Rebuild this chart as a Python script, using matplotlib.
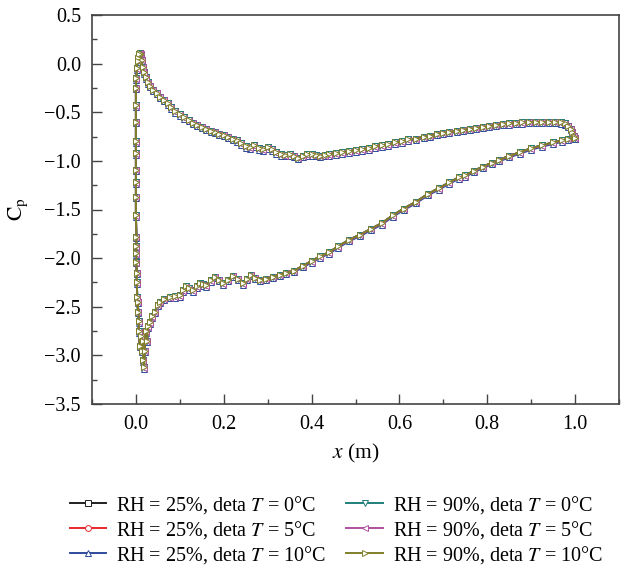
import numpy as np
import matplotlib
matplotlib.use("Agg")
import matplotlib.pyplot as plt

plt.rcParams['font.family'] = ['Liberation Serif', 'DejaVu Serif']
plt.rcParams['mathtext.fontset'] = 'stix'

# upper side (higher Cp), leading edge -> trailing edge
x_upper = [0.005, 0.007, 0.009, 0.011, 0.013, 0.015, 0.018, 0.022, 0.027, 0.033,
           0.040, 0.047, 0.055, 0.063, 0.072, 0.081, 0.090, 0.100, 0.110, 0.120,
           0.130, 0.140, 0.150, 0.160, 0.170, 0.180, 0.190, 0.200, 0.210, 0.220,
           0.230, 0.240, 0.250, 0.260, 0.270, 0.280, 0.290, 0.300, 0.310, 0.320,
           0.330, 0.340, 0.350, 0.360, 0.370, 0.380, 0.390, 0.400, 0.410, 0.420,
           0.430, 0.440, 0.455, 0.470, 0.486, 0.500, 0.515, 0.530, 0.545, 0.560,
           0.575, 0.590, 0.605, 0.620, 0.638, 0.655, 0.670, 0.685, 0.700, 0.714,
           0.730, 0.745, 0.760, 0.775, 0.790, 0.805, 0.820, 0.835, 0.850, 0.865,
           0.880, 0.895, 0.910, 0.925, 0.940, 0.955, 0.968, 0.978, 0.985, 0.990,
           0.994, 0.998, 1.000]
cp_upper = [0.06, 0.10, 0.11, 0.10, 0.04, -0.03, -0.09, -0.14, -0.19, -0.23,
            -0.27, -0.30, -0.34, -0.37, -0.41, -0.45, -0.49, -0.52, -0.55, -0.58,
            -0.61, -0.63, -0.65, -0.67, -0.69, -0.70, -0.72, -0.73, -0.75, -0.77,
            -0.79, -0.82, -0.85, -0.86, -0.84, -0.87, -0.88, -0.86, -0.88, -0.91,
            -0.93, -0.94, -0.93, -0.95, -0.97, -0.95, -0.93, -0.93, -0.94, -0.95,
            -0.94, -0.93, -0.92, -0.91, -0.90, -0.89, -0.88, -0.87, -0.85, -0.84,
            -0.83, -0.81, -0.80, -0.78, -0.77, -0.75, -0.74, -0.72, -0.71, -0.70,
            -0.69, -0.68, -0.67, -0.66, -0.65, -0.64, -0.63, -0.62, -0.615, -0.61,
            -0.605, -0.60, -0.60, -0.60, -0.60, -0.60, -0.605, -0.615, -0.64, -0.67,
            -0.70, -0.74, -0.76]

# lower side (suction peak region), leading edge -> trailing edge
x_lower = [0.004, 0.002, 0.001, 0.000, 0.000, 0.000, 0.000, 0.000, 0.000, 0.000,
           0.000, 0.000, 0.001, 0.001, 0.001, 0.001, 0.002, 0.002, 0.003, 0.005,
           0.004, 0.007, 0.006, 0.009, 0.011, 0.013, 0.015, 0.017, 0.019, 0.020,
           0.022, 0.025, 0.028, 0.032, 0.037, 0.043, 0.050, 0.055, 0.065, 0.077,
           0.090, 0.100, 0.108, 0.115, 0.122, 0.130, 0.138, 0.145, 0.152, 0.160,
           0.170, 0.180, 0.190, 0.198, 0.210, 0.220, 0.232, 0.244, 0.253, 0.263,
           0.272, 0.282, 0.297, 0.312, 0.327, 0.342, 0.360, 0.380, 0.400, 0.420,
           0.440, 0.460, 0.486, 0.510, 0.535, 0.560, 0.585, 0.610, 0.638, 0.665,
           0.690, 0.714, 0.735, 0.750, 0.770, 0.790, 0.810, 0.827, 0.850, 0.875,
           0.900, 0.925, 0.950, 0.970, 0.985, 1.000]
cp_lower = [0.03, -0.05, -0.15, -0.25, -0.43, -0.60, -0.80, -0.92, -1.09, -1.22,
            -1.37, -1.56, -1.78, -1.88, -1.95, -2.04, -2.15, -2.25, -2.40, -2.55,
            -2.45, -2.65, -2.75, -2.90, -2.80, -2.95, -2.85, -3.05, -3.12, -2.95,
            -2.75, -2.85, -2.70, -2.66, -2.60, -2.55, -2.48, -2.45, -2.42, -2.40,
            -2.39, -2.38, -2.33, -2.29, -2.31, -2.33, -2.29, -2.26, -2.27, -2.28,
            -2.23, -2.19, -2.22, -2.26, -2.22, -2.18, -2.21, -2.26, -2.21, -2.17,
            -2.20, -2.22, -2.21, -2.19, -2.17, -2.15, -2.13, -2.08, -2.03, -1.98,
            -1.94, -1.88, -1.81, -1.76, -1.70, -1.64, -1.56, -1.49, -1.42, -1.34,
            -1.28, -1.22, -1.17, -1.15, -1.10, -1.06, -1.02, -0.99, -0.95, -0.91,
            -0.87, -0.84, -0.81, -0.79, -0.77, -0.76]

labels = ['RH = 25%, deta $T$ = 0°C', 'RH = 25%, deta $T$ = 5°C',
          'RH = 25%, deta $T$ = 10°C', 'RH = 90%, deta $T$ = 0°C',
          'RH = 90%, deta $T$ = 5°C', 'RH = 90%, deta $T$ = 10°C']
colors = ['#231f20', '#e8262b', '#2e4b9b', '#1f7f7a', '#b04fa0', '#7f7f2a']
markers = ['s', 'o', '^', 'v', '<', '>']
# small shifts between the cases (they nearly coincide)
cp_shift = [0.0, 0.0, -0.015, 0.0, -0.005, 0.0]

x_all = np.array(x_upper[::-1] + x_lower)
cp_all = np.array(cp_upper[::-1] + cp_lower)

fig = plt.figure(figsize=(6.26, 5.70), dpi=100)
ax = fig.add_axes([92/626, 1-404/570, (619-92)/626, (404-15)/570])

for i in range(6):
    ax.plot(x_all, cp_all+cp_shift[i], color=colors[i], lw=1.4, marker=markers[i],
            ms=4.2, mfc='white', mec=colors[i], mew=0.7, label=labels[i])

ax.set_xlim(-0.1, 1.1)
ax.set_ylim(-3.5, 0.5)
ax.set_xticks(np.arange(0, 1.01, 0.2))
ax.set_xticks(np.arange(-0.1, 1.11, 0.1), minor=True)
ax.set_yticks(np.arange(-3.5, 0.51, 0.5))
ax.set_yticks(np.arange(-3.5, 0.51, 0.25), minor=True)
fmt = plt.FuncFormatter(lambda v, p: ('%.1f' % v).replace('-', '\u2212'))
ax.xaxis.set_major_formatter(fmt)
ax.yaxis.set_major_formatter(fmt)
ax.tick_params(which='both', direction='in', top=False, right=False,
               labelsize=14.5, color='#444444')
ax.tick_params(which='major', length=7, width=1, pad=8)
ax.tick_params(which='minor', length=3.5, width=1)
for s in ax.spines.values():
    s.set_color('#444444')
    s.set_linewidth(1.2)

ax.set_xlabel('$x$ (m)', fontsize=15.5, labelpad=6)
ax.set_ylabel(r'$\mathrm{C_p}$', fontsize=15.5, labelpad=10)

fig.legend(loc='upper left', bbox_to_anchor=(62/626, 1-486/570), ncol=2,
           frameon=False, fontsize=14.5, handlelength=1.8, handletextpad=0.5,
           labelspacing=0.15, columnspacing=1.0, borderaxespad=0)

fig.savefig('out.png', dpi=100)
